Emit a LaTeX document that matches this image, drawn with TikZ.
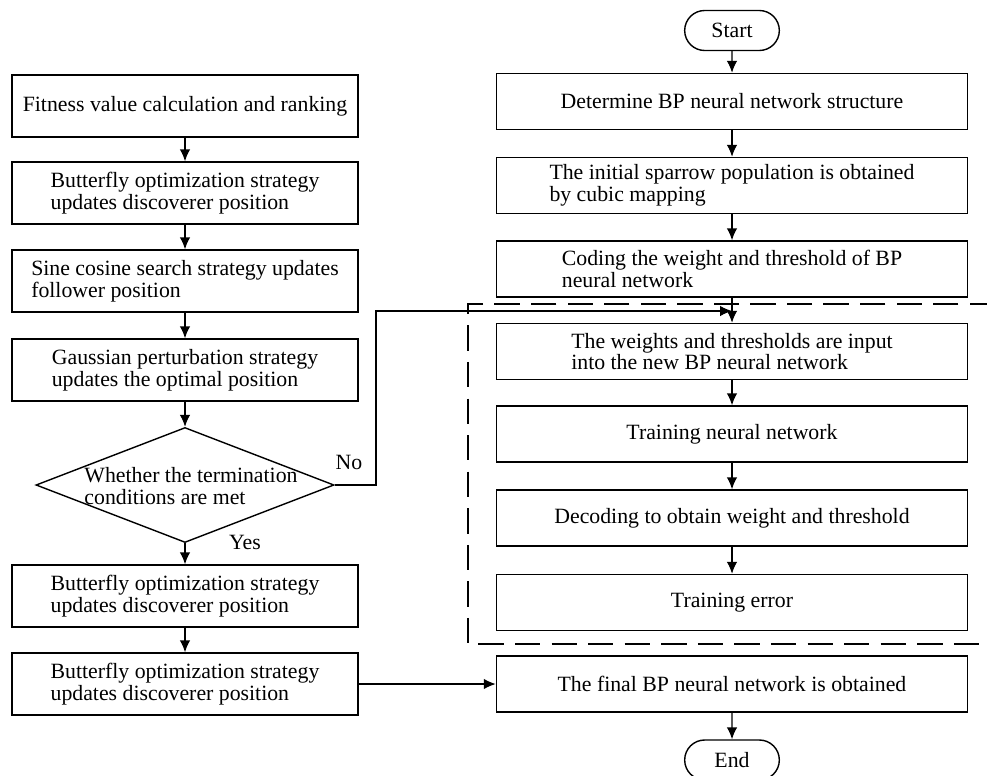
\documentclass[tikz,border=0pt]{standalone}
\usepackage{fontspec}
\setmainfont{Liberation Serif}
\usetikzlibrary{arrows.meta,shapes.geometric,shapes.misc}

\begin{document}
\begin{tikzpicture}[x=0.025cm,y=-0.025cm,line width=1pt,
  font=\fontsize{15.5}{15.5}\selectfont,
  >={Latex[length=8.5pt,width=7.5pt]},
  lbox/.style={draw,minimum width=8.65cm,minimum height=1.55cm,align=left},
  rbox/.style={draw,minimum width=11.775cm,minimum height=1.4cm,align=left},
  term/.style={draw,rounded rectangle,minimum width=2.6cm,minimum height=1cm},
  cond/.style={draw,diamond,minimum width=7.45cm,minimum height=2.875cm,inner sep=0pt}]
  \useasboundingbox (0,0) rectangle (987,776);
  \clip (0,0) rectangle (987,776);

  % left column
  \node[lbox] (fit) at (185,106) {Fitness value calculation and ranking};
  \node[lbox] (bfly) at (185,193) {Butterfly optimization strategy\\updates discoverer position};
  \node[lbox] (sine) at (185,281) {Sine cosine search strategy updates\\follower position};
  \node[lbox] (gauss) at (185,370) {Gaussian perturbation strategy\\updates the optimal position};
  \node[cond] (met) at (185,485) {};
  \node[align=left,inner sep=0pt] (mettext) at (191,486)
    {Whether the termination\\conditions are met};
  \node[lbox] (bfly2) at (185,596) {Butterfly optimization strategy\\updates discoverer position};
  \node[lbox] (bfly3) at (185,684) {Butterfly optimization strategy\\updates discoverer position};

  % right column
  \node[term] (start) at (732,30.5) {Start};
  \node[rbox] (bp) at (732,101.5) {Determine BP neural network structure};
  \node[rbox] (init) at (732,185.5) {The initial sparrow population is obtained\\by cubic mapping};
  \node[rbox] (code) at (732,269) {Coding the weight and threshold of BP\\neural network};
  \node[rbox] (input) at (732,351.5) {The weights and thresholds are input\\into the new BP neural network};
  \node[rbox] (train) at (732,434) {Training neural network};
  \node[rbox] (decode) at (732,518) {Decoding to obtain weight and threshold};
  \node[rbox] (err) at (732,602.5) {Training error};
  \node[rbox] (final) at (732,684) {The final BP neural network is obtained};
  \node[term] (end) at (732,760) {End};

  % dashed frame round the training loop
  \draw[dash pattern=on 18pt off 8pt] (995,304) -- (468,304) -- (468,644) -- (995,644);

  \coordinate (nobend) at (376,311);
  \coordinate (join) at (732,311);

  \draw[->] (fit) -- (bfly);
  \draw[->] (bfly) -- (sine);
  \draw[->] (sine) -- (gauss);
  \draw[->] (gauss) -- (met);
  \draw[->] (met) -- (bfly2);
  \draw[->] (bfly2) -- (bfly3);
  \draw[->] (met.east) -| (nobend) -- (join);
  \draw[->] (bfly3) -- (final);

  \draw[->] (start) -- (bp);
  \draw[->] (bp) -- (init);
  \draw[->] (init) -- (code);
  \draw[->] (code) -- (input);
  \draw[->] (input) -- (train);
  \draw[->] (train) -- (decode);
  \draw[->] (decode) -- (err);
  \draw[->] (final) -- (end);

  \node (no) at (349,462) {No};
  \node (yes) at (245,542) {Yes};
\end{tikzpicture}
\end{document}
